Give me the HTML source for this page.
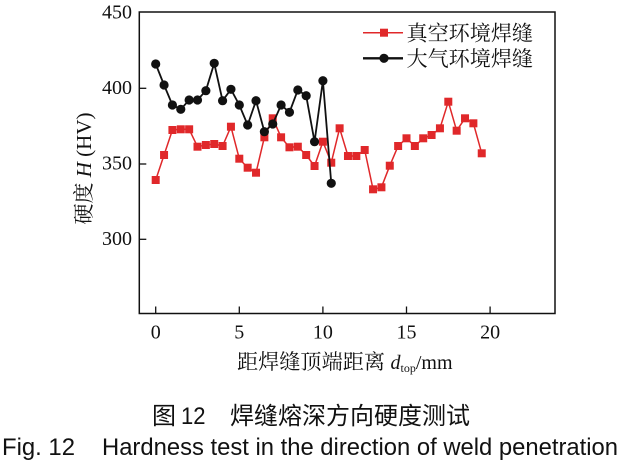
<!DOCTYPE html>
<html>
<head>
<meta charset="utf-8">
<style>
html,body{margin:0;padding:0;background:#fff;}
svg{display:block;}
.serif{font-family:"Liberation Serif","Noto Serif CJK SC",serif;}
.cjkserif{font-family:"Liberation Serif","Noto Serif CJK SC",serif;}
.sans{font-family:"Liberation Sans","Noto Sans CJK SC",sans-serif;}
</style>
</head>
<body>
<svg width="624" height="464" viewBox="0 0 624 464" xmlns="http://www.w3.org/2000/svg">
<defs>
<marker id="sq" markerWidth="8" markerHeight="8" refX="4" refY="4" markerUnits="userSpaceOnUse" overflow="visible">
<rect x="0" y="0" width="8" height="8" fill="#e0282a"/>
</marker>
<marker id="ci" markerWidth="10" markerHeight="10" refX="5" refY="5" markerUnits="userSpaceOnUse" overflow="visible">
<circle cx="5" cy="5" r="4.6" fill="#111"/>
</marker>
</defs>
<rect width="624" height="464" fill="#fff"/>

<!-- frame -->
<rect x="139.3" y="12" width="415.7" height="301.5" fill="none" stroke="#111" stroke-width="1.5"/>

<!-- y ticks -->
<g stroke="#111" stroke-width="1.3">
<line x1="139.3" y1="88.3" x2="146.3" y2="88.3"/>
<line x1="139.3" y1="164" x2="146.3" y2="164"/>
<line x1="139.3" y1="239.3" x2="146.3" y2="239.3"/>
<!-- x ticks -->
<line x1="155.7" y1="313.5" x2="155.7" y2="306.5"/>
<line x1="239.3" y1="313.5" x2="239.3" y2="306.5"/>
<line x1="322.9" y1="313.5" x2="322.9" y2="306.5"/>
<line x1="406.5" y1="313.5" x2="406.5" y2="306.5"/>
<line x1="490.1" y1="313.5" x2="490.1" y2="306.5"/>
</g>

<!-- y tick labels -->
<g class="serif" font-size="20" fill="#111" text-anchor="end">
<text x="132" y="18.5">450</text>
<text x="132" y="94">400</text>
<text x="132" y="169.7">350</text>
<text x="132" y="245">300</text>
</g>

<!-- x tick labels -->
<g class="serif" font-size="20" fill="#111" text-anchor="middle">
<text x="155.7" y="338.5">0</text>
<text x="239.3" y="338.5">5</text>
<text x="322.9" y="338.5">10</text>
<text x="406.5" y="338.5">15</text>
<text x="490.1" y="338.5">20</text>
</g>

<!-- x title -->
<text class="cjkserif" x="237" y="369" font-size="21" fill="#111" textLength="148" lengthAdjust="spacingAndGlyphs">距焊缝顶端距离</text>
<text class="serif" x="390.5" y="369" font-size="20" fill="#111"><tspan font-style="italic">d</tspan><tspan font-size="12" dy="3">top</tspan><tspan dy="-3">/mm</tspan></text>

<!-- y title -->
<text class="serif" transform="translate(91,168.5) rotate(-90)" text-anchor="middle" font-size="21" fill="#111"><tspan class="cjkserif">硬度</tspan> <tspan font-style="italic">H</tspan> (HV)</text>

<!-- series: vacuum (red) -->
<polyline fill="none" stroke="#e0282a" stroke-width="1.5" marker-start="url(#sq)" marker-mid="url(#sq)" marker-end="url(#sq)"
points="155.7,180 164.06,155 172.42,130 180.78,129.3 189.14,129.3 197.5,146.7 205.86,145 214.22,144 222.58,146 230.94,126.7 239.3,158.7 247.66,167.7 256.02,172.7 264.38,137.3 272.74,118.3 281.1,137.3 289.46,147.3 297.82,146.7 306.18,155 314.54,166 322.9,141.7 331.26,162.7 339.62,128.3 347.98,156 356.34,156 364.7,150 373.06,189.3 381.42,187.3 389.78,165.7 398.14,146 406.5,138.3 414.86,146 423.22,138.3 431.58,135 439.94,128.3 448.3,101.7 456.66,130.7 465.02,118.3 473.38,123.3 481.74,153.3"/>

<!-- series: atmosphere (black) -->
<polyline fill="none" stroke="#111" stroke-width="1.8" marker-start="url(#ci)" marker-mid="url(#ci)" marker-end="url(#ci)"
points="155.7,64 164.06,85 172.42,105 180.78,109.3 189.14,100 197.5,100 205.86,90.7 214.22,63.3 222.58,100.7 230.94,89.3 239.3,105 247.66,125 256.02,100.7 264.38,131.7 272.74,124 281.1,105 289.46,112.3 297.82,90 306.18,95.7 314.54,141.7 322.9,80.7 331.26,183.3"/>

<!-- legend -->
<line x1="363" y1="32.7" x2="403" y2="32.7" stroke="#e0282a" stroke-width="1.5"/>
<rect x="380" y="28.7" width="8" height="8" fill="#e0282a"/>
<text class="cjkserif" x="406.5" y="40.3" font-size="21" fill="#111" textLength="126.5" lengthAdjust="spacingAndGlyphs">真空环境焊缝</text>
<line x1="363" y1="58.3" x2="403" y2="58.3" stroke="#111" stroke-width="2.4"/>
<circle cx="384" cy="58.3" r="4.6" fill="#111"/>
<text class="cjkserif" x="406.5" y="66" font-size="21" fill="#111" textLength="126.5" lengthAdjust="spacingAndGlyphs">大气环境焊缝</text>

<!-- caption -->
<g class="sans" fill="#111">
<text x="152" y="424" font-size="24">图</text>
<text x="181" y="424" font-size="24" textLength="24.5" lengthAdjust="spacingAndGlyphs">12</text>
<text x="230" y="424" font-size="24" textLength="240" lengthAdjust="spacingAndGlyphs">焊缝熔深方向硬度测试</text>
<text x="2" y="455" font-size="24.5" textLength="73" lengthAdjust="spacingAndGlyphs">Fig. 12</text>
<text x="102" y="455" font-size="24.5" textLength="516" lengthAdjust="spacingAndGlyphs">Hardness test in the direction of weld penetration</text>
</g>
</svg>
</body>
</html>
